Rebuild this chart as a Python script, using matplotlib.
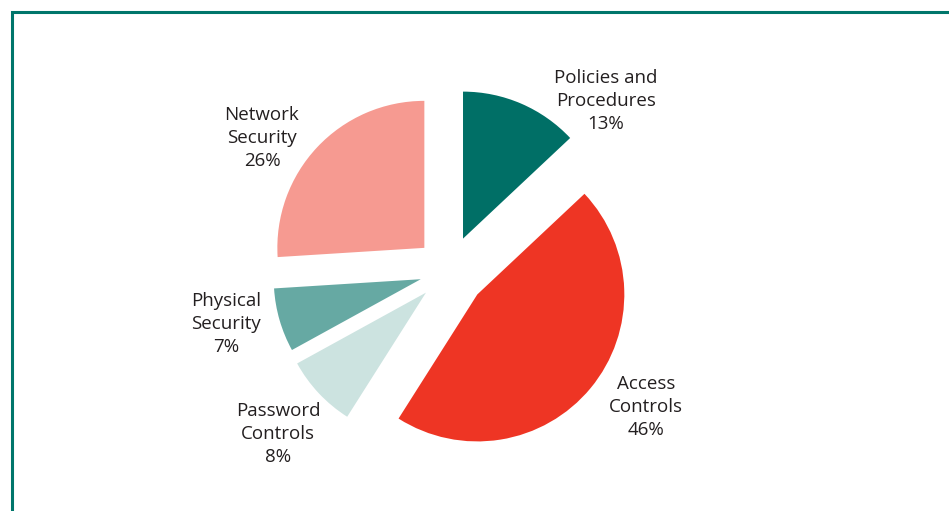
import matplotlib
matplotlib.use("Agg")
import matplotlib.pyplot as plt
from matplotlib.patches import Rectangle

# data
categories = ["Policies and\nProcedures", "Access\nControls", "Password\nControls",
              "Physical\nSecurity", "Network\nSecurity"]
shares = [13, 46, 8, 7, 26]
colors = ["#006f66", "#ee3524", "#cce3e0", "#66a9a3", "#f69a91"]
explode = [0.24, 0.25, 0.215, 0.2, 0.23]   # fraction of radius

# label anchor points (pixels, y measured from the top)
label_xy = [(606, 101), (646, 407), (278, 434), (226, 324), (262, 138)]

W, H = 949, 511
R = 147
fig = plt.figure(figsize=(W / 100, H / 100), dpi=100)
ax = fig.add_axes([0, 0, 1, 1])

ax.pie(shares, explode=[e * R for e in explode], colors=colors, startangle=90,
       counterclock=False, radius=R, center=(449, H - 271),
       wedgeprops=dict(linewidth=0, antialiased=True))
ax.set_xlim(0, W)
ax.set_ylim(0, H)
ax.set_aspect("equal")
ax.axis("off")

for name, val, (lx, ly) in zip(categories, shares, label_xy):
    ax.text(lx, H - ly, f"{name}\n{val}%", ha="center", va="center",
            fontsize=13.5, family="Open Sans", color="#231f20", linespacing=1.38)

# teal frame, running off the right and bottom edges
fig.patches.append(Rectangle((11.5, -20), W + 40, H - 11.5 + 20,
                             transform=None, fill=False, edgecolor="#00766b",
                             linewidth=2.2))

fig.savefig("out.png", dpi=100)
